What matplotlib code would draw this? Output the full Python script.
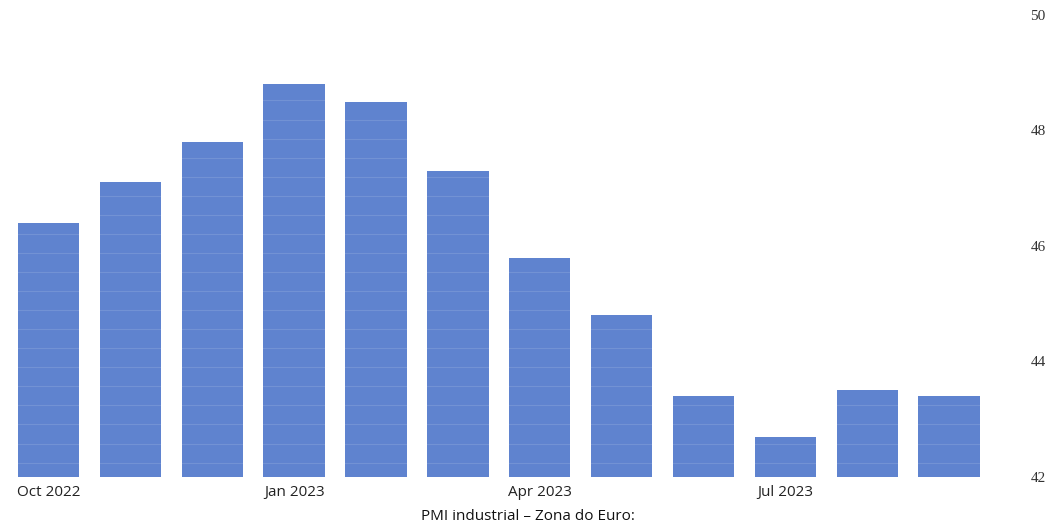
import numpy as np
from matplotlib import pyplot as plt

# PMI industrial - Zona do Euro (Oct 2022 .. Sep 2023)
meses = ['Oct 2022', 'Nov 2022', 'Dec 2022', 'Jan 2023', 'Feb 2023', 'Mar 2023',
         'Apr 2023', 'May 2023', 'Jun 2023', 'Jul 2023', 'Aug 2023', 'Sep 2023']
pmi = [46.4, 47.1, 47.8, 48.8, 48.5, 47.3, 45.8, 44.8, 43.4, 42.7, 43.5, 43.4]
rotulos_x = ['Oct 2022', 'Jan 2023', 'Apr 2023', 'Jul 2023']
ticks_y = [42, 44, 46, 48, 50]

fig = plt.figure(figsize=(10.56, 5.31), dpi=100)
ax = fig.add_axes([0.0072, 0.1017, 0.9303, 0.8701])

x = np.arange(len(meses))
ax.bar(x, np.array(pmi) - 42, bottom=42, width=0.75, color='#5f83cf', zorder=2)

# listras claras horizontais (efeito de digitalizacao)
for y in np.arange(42.25, 50, 0.33):
    ax.axhline(y, color='white', lw=0.8, alpha=0.12, zorder=3)

ax.set_xlim(-0.5, len(meses) - 0.5)
ax.set_ylim(42, 50)

ax.set_xticks([meses.index(m) for m in rotulos_x])
ax.set_xticklabels(rotulos_x, fontsize=11, color='#222222', family='Open Sans')
ax.tick_params(axis='x', length=0, pad=6)

ax.yaxis.tick_right()
ax.set_yticks(ticks_y)
ax.set_yticklabels([str(t) for t in ticks_y], fontsize=11, color='#333333',
                   family='Liberation Serif')
ax.tick_params(axis='y', length=0, pad=29)

for s in ax.spines.values():
    s.set_visible(False)

fig.text(0.5, 0.028, 'PMI industrial \u2013 Zona do Euro:', ha='center', va='center',
         fontsize=11, color='#111111', family='Open Sans')

plt.savefig('out.png', dpi=100)
